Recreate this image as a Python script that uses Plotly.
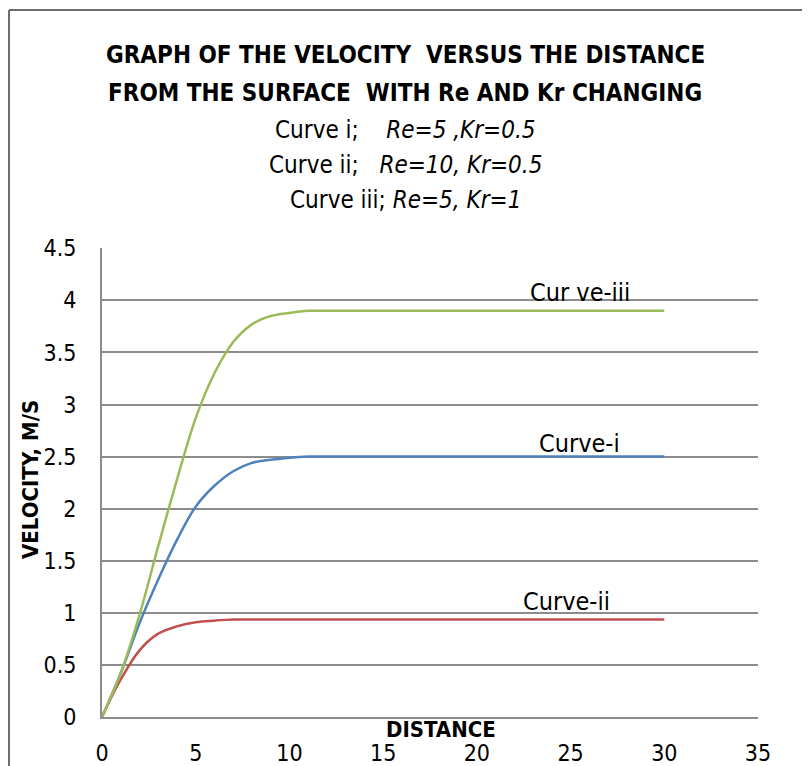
import plotly.graph_objects as go

# Data
distance = [0, 1, 2, 3, 4, 5, 6, 7, 8, 9, 10, 11, 12, 15, 20, 25, 30]
curve_i = [0, 0.42, 0.9, 1.32, 1.7, 2.02, 2.22, 2.36, 2.44, 2.47, 2.49, 2.5, 2.5, 2.5, 2.5, 2.5, 2.5]
curve_ii = [0, 0.36, 0.64, 0.8, 0.87, 0.91, 0.925, 0.935, 0.935, 0.935, 0.935, 0.935, 0.935, 0.935, 0.935, 0.935, 0.935]
curve_iii = [0, 0.42, 0.98, 1.64, 2.28, 2.87, 3.3, 3.6, 3.77, 3.85, 3.88, 3.9, 3.9, 3.9, 3.9, 3.9, 3.9]

series_names = ["Curve-i", "Curve-ii", "Cur ve-iii"]
series_colors = ["#4F81BD", "#C0504D", "#9BBB59"]
x_ticks = [0, 5, 10, 15, 20, 25, 30, 35]
y_ticks = [0, 0.5, 1, 1.5, 2, 2.5, 3, 3.5, 4, 4.5]

FONT = "Liberation Sans Narrow, Arial Narrow, DejaVu Sans Condensed, DejaVu Sans, sans-serif"

fig = go.Figure()
for name, ys, col in zip(series_names, [curve_i, curve_ii, curve_iii], series_colors):
    fig.add_trace(go.Scatter(x=distance, y=ys, mode="lines", name=name,
                             line=dict(color=col, width=2.5, shape="spline", smoothing=1.0)))

# curve labels
label_pos = [(25.5, 2.63), (24.8, 1.11), (25.5, 4.08)]
for name, (lx, ly) in zip(series_names, label_pos):
    fig.add_annotation(x=lx, y=ly, text=name, showarrow=False,
                       font=dict(family=FONT, size=25, color="#000"))

OFF = 8  # page body margin
W, H = 810 - OFF, 766 - OFF
L, R, T, B = 102, 758, 248, 717  # page pixel positions of the plot area


def px(x):
    return (x - L) / (R - L)


def py(y):
    return (B - y) / (B - T)


nb = "\u00a0"
title_lines = [
    ("<b>GRAPH OF THE VELOCITY" + nb * 2 + "VERSUS THE DISTANCE</b>", 55, 24),
    ("<b>FROM THE SURFACE" + nb * 2 + "WITH Re AND Kr CHANGING</b>", 93, 24),
    ("Curve i;" + nb * 4 + "<i>Re=5 ,Kr=0.5</i>", 130, 24),
    ("Curve ii;" + nb * 3 + "<i>Re=10, Kr=0.5</i>", 165, 24),
    ("Curve iii;" + nb + "<i>Re=5, Kr=1</i>", 200, 24),
]
for txt, yy, fs in title_lines:
    fig.add_annotation(x=px(405), y=py(yy), xref="paper", yref="paper", text=txt,
                       showarrow=False, font=dict(family=FONT, size=fs, color="#000"),
                       xanchor="center", yanchor="middle")

fig.add_annotation(x=px(441), y=py(729), xref="paper", yref="paper", text="<b>DISTANCE</b>",
                   showarrow=False, font=dict(family=FONT, size=22, color="#000"),
                   xanchor="center", yanchor="middle")
fig.add_annotation(x=px(30), y=py(480), xref="paper", yref="paper", text="<b>VELOCITY, M/S</b>",
                   showarrow=False, textangle=-90, font=dict(family=FONT, size=22, color="#000"),
                   xanchor="center", yanchor="middle")

# outer frame
fig.add_shape(type="line", xref="paper", yref="paper", x0=px(9), y0=py(780), x1=px(9), y1=py(10),
              line=dict(color="#6e6e6e", width=2))
fig.add_shape(type="line", xref="paper", yref="paper", x0=px(9), y0=py(10), x1=px(830), y1=py(10),
              line=dict(color="#6e6e6e", width=2))

fig.update_layout(
    width=W, height=H,
    margin=dict(l=L - OFF, r=(W + OFF) - R, t=T - OFF, b=(H + OFF) - B),
    paper_bgcolor="white", plot_bgcolor="white",
    showlegend=False,
    font=dict(family=FONT, size=23, color="#000"),
)
fig.update_xaxes(range=[0, 35], tickvals=x_ticks, showgrid=False, zeroline=False,
                 showline=True, linecolor="#8c8c8c", linewidth=2, ticks="", ticklabelstandoff=14,
                 tickfont=dict(family=FONT, size=23, color="#000"), automargin=False)
fig.update_yaxes(range=[0, 4.503], tickvals=y_ticks, showgrid=True, gridcolor="#8c8c8c", gridwidth=1.5,
                 zeroline=False, showline=True, linecolor="#8c8c8c", linewidth=2, ticks="",
                 ticklabelstandoff=19, tickfont=dict(family=FONT, size=23, color="#000"),
                 automargin=False)

fig.write_html("out.html")
